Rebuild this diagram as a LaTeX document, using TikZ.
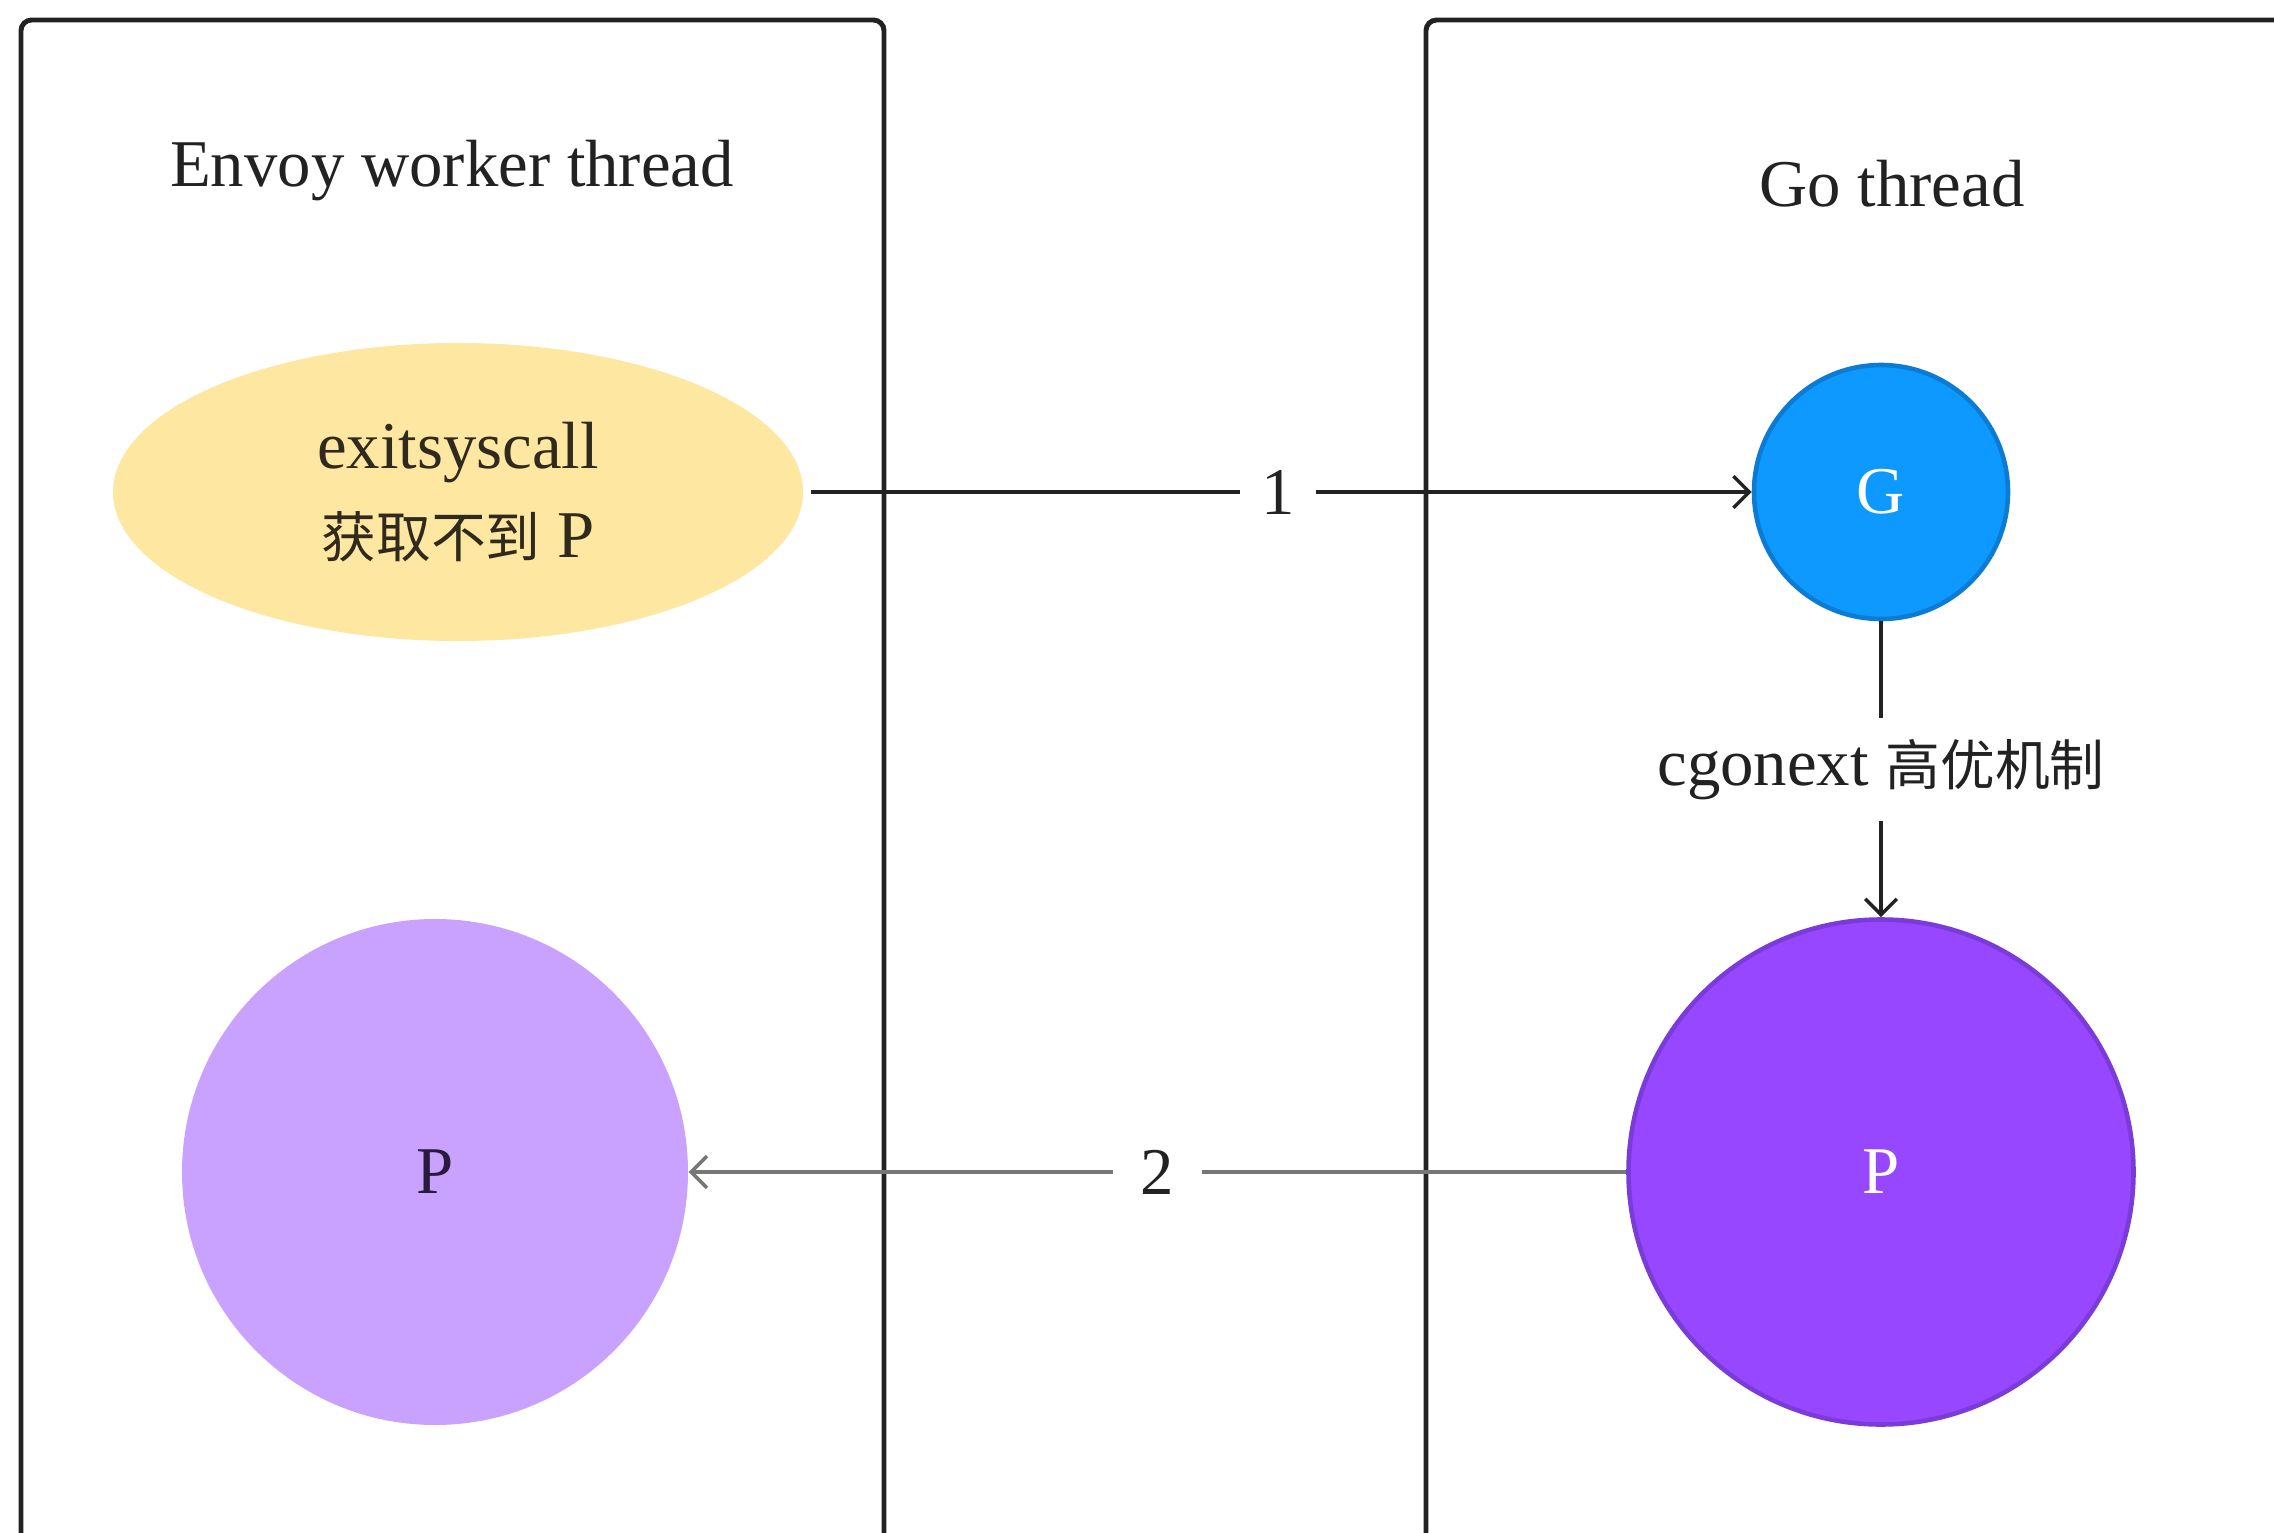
\documentclass[tikz,border=0pt]{standalone}
\usepackage{fontspec}
\setmainfont{Liberation Serif}
\newfontfamily\cjk[Scale=0.82]{Noto Sans CJK SC}
\usepackage{xcolor}
\usetikzlibrary{arrows.meta}
\usetikzlibrary{shapes.geometric}
\usetikzlibrary{positioning}

\definecolor{linegray}{HTML}{222222}
\definecolor{arrowgray}{HTML}{777777}
\definecolor{sysyellow}{HTML}{FDE7A1}
\definecolor{gblue}{HTML}{0D99FF}
\definecolor{gborder}{HTML}{0B7BD3}
\definecolor{plight}{HTML}{C9A2FF}
\definecolor{pdark}{HTML}{9747FF}
\definecolor{pborder}{HTML}{7B3BD8}

\tikzset{
  threadbox/.style={draw=linegray,line width=1.4pt,rounded corners=3pt},
  conn/.style={line width=1pt,draw=linegray},
  lbl/.style={fill=white,inner xsep=6pt,inner ysep=6pt,text=linegray}
}

\begin{document}
\begin{tikzpicture}[x=1cm,y=-1cm,
    font=\fontsize{19}{25.2}\selectfont,
    >={Straight Barb[length=4.5pt,width=9pt]}]
      \useasboundingbox (0,0) rectangle (22.74,15.33);
      %%
      \draw[threadbox] (0.21,0.20) rectangle (8.84,17);
      \draw[threadbox] (14.26,0.20) rectangle (25,17);
      \node[anchor=base,text=linegray] (envoy) at (4.52,1.87) {Envoy worker thread};
      \node[anchor=base,text=linegray] (gothread) at (18.92,2.07) {Go thread};
      %%
      \node[ellipse,fill=sysyellow,minimum width=6.9cm,minimum height=2.98cm,
            inner sep=0pt,align=center,text={rgb,255:red,47;green,42;blue,29}]
            (sys) at (4.58,4.92) {exitsyscall\\{\cjk 获取不到} P};
      \node[circle,fill=gblue,draw=gborder,line width=1.3pt,minimum size=2.54cm,
            text=white] (G) at (18.81,4.92) {G};
      \node[circle,fill=pdark,draw=pborder,line width=1.3pt,minimum size=5.05cm,
            text=white] (Pgo) at (18.81,11.72) {P};
      \node[circle,fill=plight,minimum size=5.06cm,
            text={rgb,255:red,42;green,27;blue,61}] (Penvoy) at (4.35,11.72) {P};
      %%
      \draw[conn,->,shorten <=2pt] (sys) -- (G) node[midway,lbl] {1};
      \draw[conn,->] (G) -- (Pgo) node[midway,lbl] {cgonext {\cjk 高优机制}};
      \draw[conn,draw=arrowgray,->] (Pgo) -- (Penvoy)
            node[midway,lbl,inner xsep=8pt] {2};
\end{tikzpicture}
\end{document}
